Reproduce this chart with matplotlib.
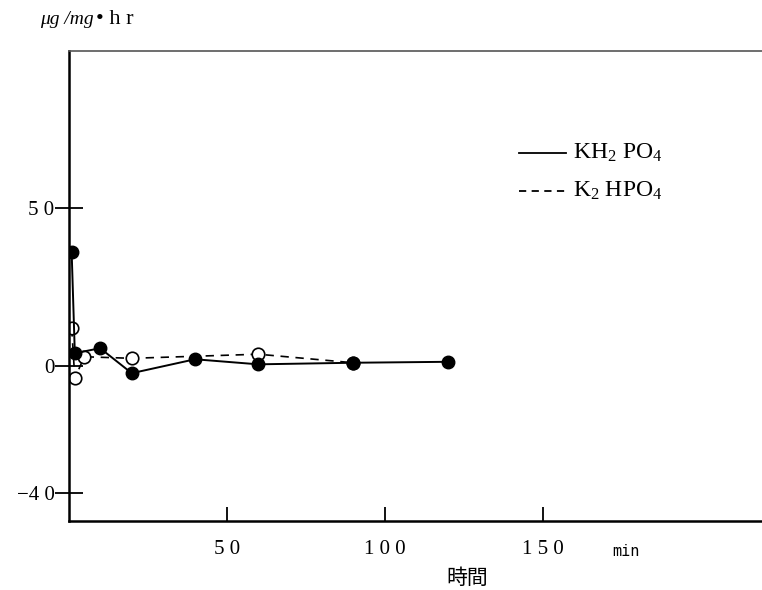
import numpy as np
import matplotlib
matplotlib.use("Agg")
import matplotlib.pyplot as plt

plt.rcParams['font.family'] = ['Liberation Serif', 'Noto Sans CJK JP', 'DejaVu Sans']
plt.rcParams['mathtext.fontset'] = 'custom'
plt.rcParams['mathtext.rm'] = 'Liberation Serif'
plt.rcParams['mathtext.it'] = 'Liberation Serif:italic'

# KH2PO4 (solid line, filled circles)
t_kh = [1, 2, 10, 20, 40, 60, 90, 120]
v_kh = [35.9, 4.0, 5.6, -2.3, 2.1, 0.5, 1.0, 1.3]
# K2HPO4 (dashed line, open circles)
t_k2 = [1, 2, 5, 20, 60, 90]
v_k2 = [11.9, -3.9, 2.9, 2.4, 3.7, 1.0]

xticks = [50, 100, 150]
xticklabels = ['5 0', '1 0 0', '1 5 0']
yticks = [-40, 0, 50]
yticklabels = ['\u22124 0', '0', '5 0']

fig = plt.figure(figsize=(7.62, 5.9), dpi=100)
ax = fig.add_axes([68.5 / 762, 69 / 590, 1 - 68.5 / 762, 470 / 590])

ax.plot(t_k2, v_k2, color='black', lw=1.2, ls=(0, (5, 4)), marker='o', ms=9,
        mfc='white', mec='black', mew=1.2, zorder=2)
ax.plot(t_kh, v_kh, color='black', lw=1.4, marker='o', ms=9,
        mfc='black', mec='black', zorder=3)

ax.set_xlim(0, 219.3)
ax.set_ylim(-49, 99.5)

ax.set_xticks(xticks)
ax.set_xticklabels(xticklabels, fontsize=15)
ax.set_yticks(yticks)
ax.set_yticklabels(yticklabels, fontsize=15)
ax.tick_params(axis='y', direction='inout', length=20, width=1.3, pad=0)
ax.tick_params(axis='x', direction='in', length=10, width=1.3, pad=14)

ax.spines['right'].set_visible(False)
ax.spines['left'].set_linewidth(1.8)
ax.spines['bottom'].set_linewidth(1.8)
ax.spines['top'].set_linewidth(1.2)
ax.spines['top'].set_color('#555555')

# legend drawn as lines and text in axes coordinates
ax.plot([0.650, 0.717], [0.784, 0.784], transform=ax.transAxes, color='black', lw=1.3)
ax.plot([0.650, 0.717], [0.703, 0.703], transform=ax.transAxes, color='black', lw=1.3,
        ls=(0, (4, 3)))
ax.text(0.727, 0.784, 'KH$_2$ PO$_4$', transform=ax.transAxes, fontsize=17,
        va='center', ha='left')
ax.text(0.727, 0.703, 'K$_2$ HPO$_4$', transform=ax.transAxes, fontsize=17,
        va='center', ha='left')

fig.text(40 / 762, 1 - 20 / 590, '\u03bcg /mg', fontsize=14, style='italic',
         va='center', ha='left')
fig.text(96 / 762, 1 - 20 / 590, '\u2022 h r', fontsize=16, va='center', ha='left')
fig.text(612 / 762, 1 - 552 / 590, 'min', fontsize=11, family='DejaVu Sans Mono',
         va='center', ha='left')
fig.text(467 / 762, 1 - 578 / 590, '時間', fontsize=15, family='Noto Sans CJK JP',
         va='center', ha='center')

fig.savefig('out.png', dpi=100)
